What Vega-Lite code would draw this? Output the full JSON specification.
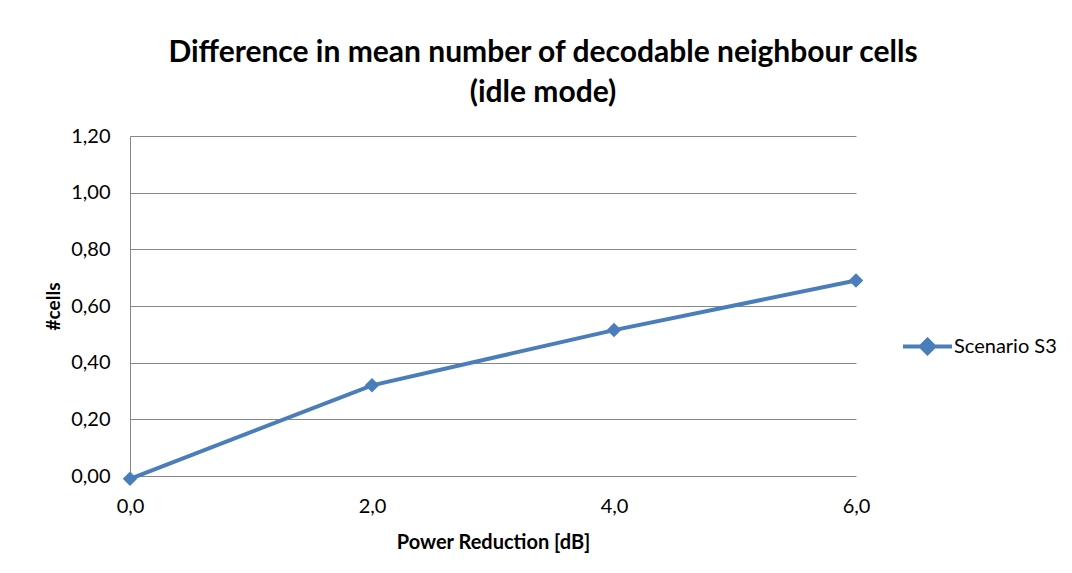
{
  "$schema": "https://vega.github.io/schema/vega-lite/v6.json",
  "width": 726,
  "height": 340,
  "autosize": "none",
  "padding": {"left": 130, "top": 136, "right": 216, "bottom": 97},
  "background": "white",
  "title": {
    "text": ["Difference in mean number of decodable neighbour cells", "(idle mode)"],
    "font": "Lato",
    "fontSize": 30,
    "fontWeight": "bold",
    "color": "#000000",
    "anchor": "middle",
    "frame": "group",
    "dx": 50,
    "lineHeight": 40,
    "offset": 18
  },
  "data": {
    "values": [
      {"x": 0, "y": -0.01, "series": "Scenario S3"},
      {"x": 2, "y": 0.32, "series": "Scenario S3"},
      {"x": 4, "y": 0.515, "series": "Scenario S3"},
      {"x": 6, "y": 0.69, "series": "Scenario S3"}
    ]
  },
  "mark": {
    "type": "line",
    "strokeWidth": 4,
    "clip": false,
    "point": {"shape": "diamond", "filled": true, "size": 210, "color": "#4A7EBB"}
  },
  "encoding": {
    "x": {
      "field": "x",
      "type": "quantitative",
      "scale": {"domain": [0, 6], "nice": false},
      "axis": {
        "values": [0, 2, 4, 6],
        "labelExpr": "replace(format(datum.value, '.1f'), '.', ',')",
        "title": "Power Reduction [dB]",
        "grid": false,
        "ticks": false,
        "domain": false,
        "labelFlush": false,
        "labelPadding": 20,
        "titleY": 66,
        "titleBaseline": "middle"
      }
    },
    "y": {
      "field": "y",
      "type": "quantitative",
      "scale": {"domain": [0, 1.2], "nice": false},
      "axis": {
        "values": [0, 0.2, 0.4, 0.6, 0.8, 1.0, 1.2],
        "labelExpr": "replace(format(datum.value, '.2f'), '.', ',')",
        "title": "#cells",
        "grid": true,
        "ticks": false,
        "labelFlush": false,
        "labelPadding": 20,
        "titleX": -77,
        "titleBaseline": "middle",
        "titleFontSize": 19
      }
    },
    "color": {
      "field": "series",
      "type": "nominal",
      "scale": {"range": ["#4A7EBB"]},
      "legend": {
        "title": null,
        "orient": "none",
        "legendX": 783,
        "legendY": 196,
        "symbolType": "M-2,0L2,0M0,-0.55L0.55,0L0,0.55L-0.55,0Z",
        "symbolSize": 600,
        "symbolStrokeWidth": 4,
        "labelOffset": 12,
        "labelFontSize": 20,
        "labelFont": "Lato",
        "labelColor": "#000000",
        "encode": {
          "symbols": {
            "update": {
              "fill": {"value": "#4A7EBB"},
              "stroke": {"value": "#4A7EBB"},
              "strokeWidth": {"value": 4},
              "opacity": {"value": 1}
            }
          }
        }
      }
    }
  },
  "config": {
    "view": {"stroke": null},
    "axis": {
      "labelFont": "Lato",
      "labelFontSize": 20,
      "labelColor": "#000000",
      "titleFont": "Lato",
      "titleFontSize": 20,
      "titleFontWeight": "bold",
      "titleColor": "#000000",
      "gridColor": "#868686",
      "gridWidth": 1,
      "gridOpacity": 1,
      "domainColor": "#868686",
      "domainWidth": 1
    }
  }
}
